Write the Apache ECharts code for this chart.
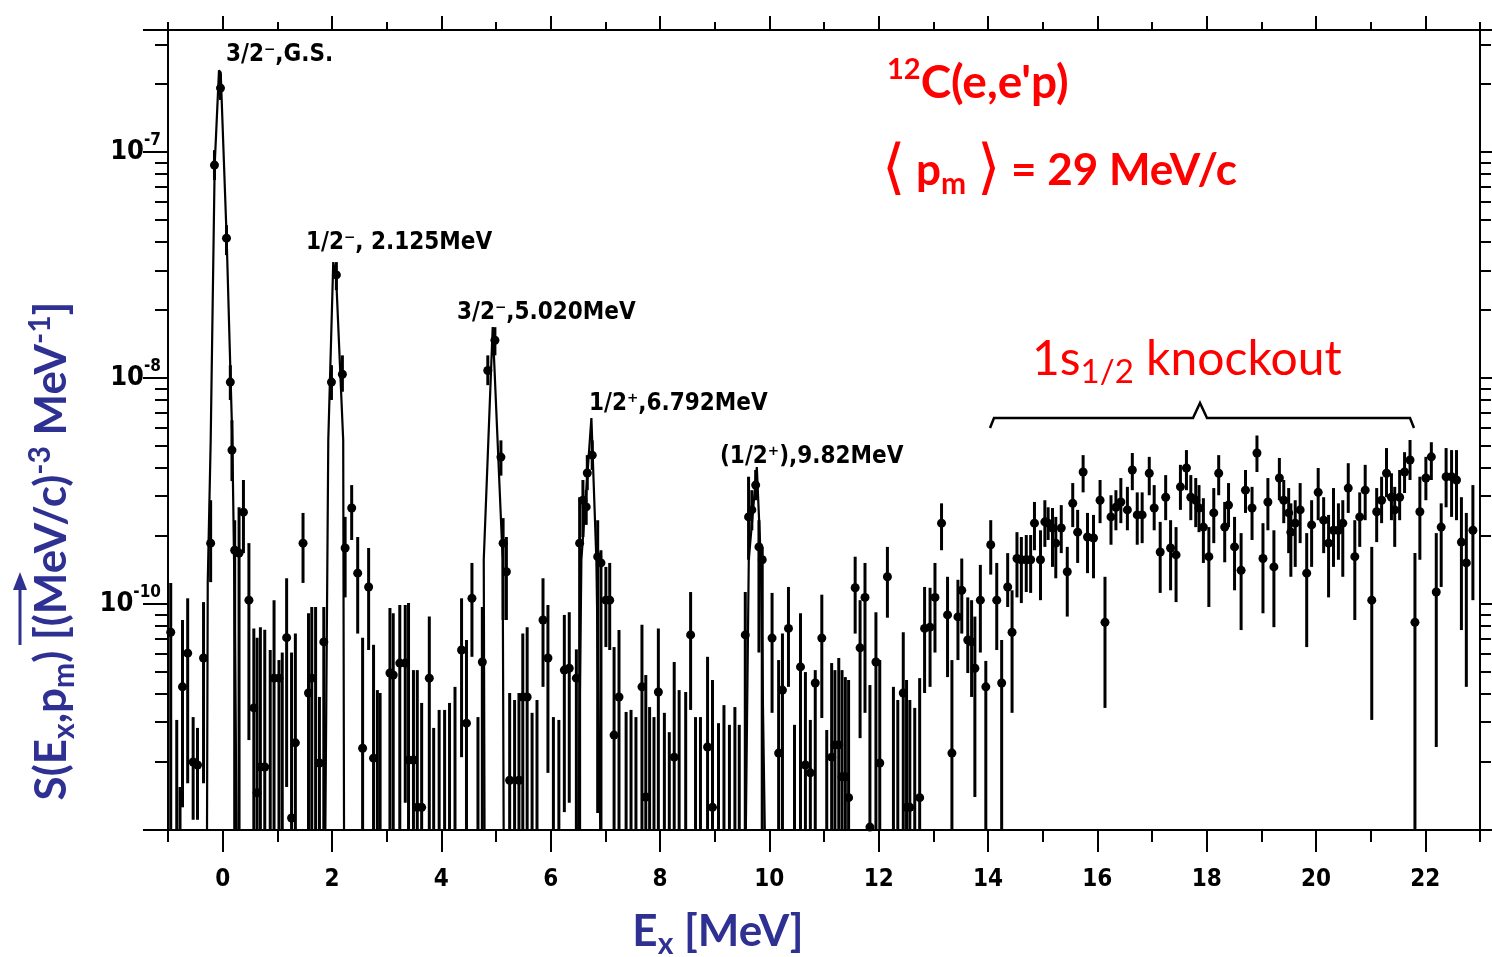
<!DOCTYPE html>
<html><head><meta charset="utf-8">
<script src="https://cdn.jsdelivr.net/npm/echarts@6/dist/echarts.min.js"></script>
<style>html,body{margin:0;padding:0;background:#fff}#c{width:1492px;height:957px}</style>
</head><body><div id="c"></div>
<script>
// ---- data (strength values in units of 1e-10 (MeV/c)^-3 MeV^-1) ----
const UNIT = 1e-10;
const energy = [-0.95,-0.84,-0.78,-0.735,-0.64,-0.54,-0.46,-0.35,-0.22,-0.15,-0.04,0.07,0.14,0.17,0.22,0.30,0.38,0.48,0.57,0.63,0.69,0.77,0.87,0.94,1.03,1.09,1.17,1.26,1.33,1.47,1.57,1.63,1.70,1.77,1.85,1.99,2.08,2.19,2.24,2.36,2.47,2.56,2.67,2.76,2.83,2.88,3.06,3.12,3.24,3.34,3.40,3.49,3.56,3.64,3.78,3.86,3.96,4.06,4.15,4.25,4.37,4.46,4.56,4.67,4.75,4.85,4.98,5.09,5.13,5.19,5.25,5.34,5.42,5.49,5.57,5.66,5.75,5.86,5.95,6.05,6.15,6.25,6.34,6.47,6.53,6.59,6.65,6.67,6.76,6.86,6.92,7.01,7.08,7.16,7.25,7.38,7.47,7.56,7.67,7.74,7.81,7.89,7.97,8.08,8.17,8.26,8.35,8.47,8.56,8.65,8.74,8.87,8.96,9.07,9.17,9.27,9.37,9.45,9.56,9.62,9.68,9.75,9.81,9.87,10.05,10.17,10.24,10.35,10.46,10.57,10.66,10.75,10.84,10.96,11.05,11.14,11.20,11.27,11.33,11.39,11.45,11.57,11.66,11.75,11.84,11.95,12.02,12.16,12.27,12.35,12.45,12.51,12.57,12.66,12.75,12.84,12.94,13.03,13.15,13.26,13.34,13.45,13.52,13.63,13.70,13.76,13.86,13.96,14.05,14.16,14.25,14.36,14.44,14.53,14.61,14.70,14.78,14.85,14.96,15.04,15.10,15.18,15.24,15.34,15.45,15.55,15.64,15.74,15.82,15.93,16.05,16.14,16.25,16.34,16.43,16.55,16.64,16.73,16.82,16.95,17.04,17.15,17.25,17.34,17.44,17.52,17.63,17.71,17.80,17.86,17.94,18.04,18.13,18.22,18.33,18.40,18.51,18.63,18.71,18.83,18.92,19.03,19.12,19.23,19.33,19.41,19.50,19.54,19.62,19.71,19.83,19.92,20.04,20.14,20.23,20.32,20.41,20.49,20.59,20.71,20.80,20.90,21.02,21.11,21.20,21.29,21.38,21.44,21.53,21.62,21.72,21.81,21.90,22.01,22.11,22.20,22.29,22.38,22.48,22.57,22.66,22.75,22.87];
const strength = [7.5,0.5,0.5,4.3,6.06,2.0,1.94,5.77,18.6,876,1920,416,96,48,17.3,16.8,25.5,10.4,3.47,1.46,1.9,1.9,0.5,4.7,4.7,0.5,7.1,1.13,2.43,18.6,4.04,4.7,0.5,1.98,6.8,96,286,104,17.7,26.6,13.7,2.3,11.9,2.08,0.5,0.5,4.95,4.85,5.48,5.48,2.04,2.04,1.26,1.26,4.7,0.5,0.5,0.5,0.5,0.5,6.26,2.97,10.6,0.5,5.54,108,147,44.7,18.6,13.9,1.66,0.5,1.66,3.88,3.88,0.5,0.5,8.5,5.77,0.5,0.5,5.1,5.2,4.7,18.6,28.8,26.9,38,45.6,16.2,15.2,10.4,10.4,2.63,3.88,0.5,0.5,0.5,4.3,1.4,0.5,0.5,4.08,0.5,0.5,2.1,0.5,0.5,7.3,0.5,0.5,2.33,1.26,0.5,0.5,0.5,0.5,0.5,7.3,24.3,26.1,33.6,17.9,15.7,7.07,2.19,4.16,7.8,0.5,5.27,1.94,1.79,4.47,7.07,0.5,2.1,2.38,2.38,1.72,1.72,1.39,11.8,6.4,10.7,1.03,5.54,1.98,13.2,0.98,0.5,4.04,1.26,1.26,0.5,1.39,7.8,7.9,10.7,22.8,8.95,2.19,8.77,11.5,6.93,6.8,5.2,10.4,4.3,18.3,10.4,4.47,11.9,7.5,15.9,15.7,15.7,15.7,22.8,15.7,23.1,22.8,21.7,18.6,21.7,13.9,27.9,20.8,38.4,19.8,19.6,28.8,8.3,24.3,26.8,28.3,26.1,39.2,24.8,24.8,37.9,26.6,17.0,29.7,17.7,16.5,33.0,40.0,29.7,28.8,26.6,21.9,16.2,25.3,37.9,21.9,27.4,17.9,14.1,31.9,26.6,46.6,15.9,28.3,14.6,36.1,28.8,25.3,20.8,22.8,26.1,13.7,22.4,31.2,23.5,18.6,21.2,21.2,22.8,32.6,16.2,24.3,31.9,10.4,25.6,28.8,37.9,29.7,26.1,29.7,38.4,43.4,8.3,25.6,36.1,44.8,11.3,21.9,36.6,36.6,35.4,18.8,15.2,21.2];
const upper = [12.4,3.07,1.55,8.5,10.6,3.16,2.83,10.2,28.8,1020,2220,475,114,65,23.5,26.8,35.4,18.6,7.8,7.1,7.9,7.7,6.26,10.4,5.65,6.1,13.0,6.1,7.4,25.3,9.1,9.7,9.7,3.88,9.7,114,326,126,24.3,33.6,19.8,7.1,17.7,6.6,4.16,4.04,9.6,9.1,9.9,9.9,10.1,5.1,5.1,3.65,8.8,2.83,3.4,3.4,3.65,4.3,10.6,6.93,15.2,3.16,9.7,126,168,53,24,19.8,4.04,3.76,4.04,7.4,7.9,3.3,3.76,13.0,9.9,3.16,3.07,8.95,9.2,6.3,29.7,35.4,31.9,45.6,53,23.5,17.3,14.6,15.2,6.45,7.67,3.33,3.4,3.16,8.1,4.85,3.5,3.16,7.8,3.3,2.71,5.54,4.16,4.08,11.3,3.16,3.16,5.84,4.61,2.97,3.57,2.92,3.5,2.92,11.3,36.6,31.9,39.2,23.5,17.9,11.2,5.65,7.4,11.9,2.92,9.1,5.0,3.07,5.1,11.0,2.77,5.48,5.1,5.77,5.1,4.75,4.61,16.2,10.4,15.2,4.38,9.2,5.65,17.9,4.3,3.76,7.5,4.61,3.76,3.47,4.7,11.9,11.8,15.2,27.9,13.2,5.65,12.8,15.9,10.7,10.4,8.8,14.9,5.6,23.5,15.2,6.93,16.8,11.5,20.8,19.8,20.2,20.2,28.3,21.2,28.8,26.8,26.6,24.3,27.4,17.9,34.3,26.1,45.6,25.3,24.8,35.4,13.2,30.3,31.9,36.1,33.0,46.6,31.2,31.2,44.8,33.6,23.1,37.2,23.5,21.9,41.3,48.0,37.2,36.1,33.6,29.4,21.9,32.6,45.6,28.3,34.3,24.3,20.6,39.2,33.0,55.7,22.8,36.1,21.2,44.3,35.4,32.6,27.9,28.8,34.3,20.6,28.8,40.0,29.7,24.8,32.6,27.9,28.8,42.0,23.5,31.2,41.3,17.9,32.6,36.6,49.0,37.9,33.0,39.2,47.0,53.2,16.8,36.6,44.8,52.0,20.6,27.9,49.0,48.0,48.0,29.7,25.3,33.6];
const lower = [0.5,0.5,0.5,1.26,1.61,1.11,1.11,1.61,12.5,752,1700,350,80,35,0.5,0.5,16.8,2.5,0.5,0.5,0.5,0.5,0.5,0.5,0.5,0.5,1.55,0.5,0.5,12.4,0.5,0.5,0.5,0.5,0.5,80,245,87,10.7,19.2,7.4,0.5,6.26,0.5,0.5,0.5,0.5,0.5,0.5,1.32,0.5,0.5,0.5,0.5,0.5,0.5,0.5,0.5,0.5,0.5,2.1,0.5,5.84,0.5,0.5,93,126,37,8.5,8.5,0.5,0.5,0.5,0.5,0.5,0.5,0.5,4.3,1.79,0.5,0.5,1.2,1.32,0.5,0.5,19.8,22.4,31.9,39.2,1.19,0.5,6.45,6.26,0.5,0.5,0.5,0.5,0.5,0.5,0.5,0.5,0.5,0.5,0.5,0.5,0.5,0.5,0.5,3.4,0.5,0.5,0.5,0.5,0.5,0.5,0.5,0.5,0.5,0.5,15.7,21.2,28.8,6.1,0.5,3.3,0.5,0.5,4.3,0.5,0.5,0.5,0.5,0.5,3.13,0.5,0.5,0.5,0.5,0.5,0.5,0.5,7.4,2.55,3.3,0.5,0.5,0.5,8.7,0.5,0.5,0.5,0.5,0.5,0.5,0.5,4.04,4.3,6.1,17.3,4.75,0.5,5.65,7.4,4.95,3.88,1.4,6.1,0.5,13.5,6.26,0.5,9.7,3.3,10.7,10.1,11.3,11.2,17.3,10.4,17.9,19.2,14.6,13.0,16.8,8.8,21.9,15.2,31.2,13.7,13.0,22.8,3.47,18.3,21.2,22.8,21.2,31.9,18.3,18.6,30.3,21.2,11.2,23.5,11.5,10.2,26.1,31.9,23.5,21.9,20.8,15.2,9.7,18.6,30.3,15.3,21.9,11.5,7.67,25.3,19.2,38.4,9.1,21.2,7.9,28.8,22.8,16.8,13.2,14.6,18.6,6.45,14.6,23.5,16.8,10.7,14.6,15.7,13.2,25.3,8.5,17.9,23.5,3.07,18.8,22.8,29.7,23.5,17.9,23.5,31.0,35.4,0.5,15.7,28.8,35.4,2.33,11.9,26.8,24.3,23.5,7.67,4.3,10.4];

// fitted line shapes of the discrete states: [E (MeV), S (1e-10 units)]
const fitGS   = [[-0.29,0.5],[-0.273,12.5],[-0.219,53],[-0.146,876],[-0.067,2300],[-0.036,2250],[0.073,416],[0.177,53],[0.219,10.4],[0.255,1.0],[0.27,0.5]];
const fit2125 = [[1.87,0.5],[1.878,1.0],[1.932,53],[2.023,326],[2.078,272],[2.205,53],[2.22,1.0],[2.23,0.5]];
const fit5020 = [[4.78,0.5],[4.79,1.0],[4.776,15.7],[4.94,168],[5.122,15.7],[5.14,1.0],[5.15,0.5]];
const fit6792 = [[6.50,0.5],[6.507,1.0],[6.562,15.7],[6.745,66.5],[6.836,15.7],[6.908,1.0],[6.92,0.5]];
const fit962  = [[9.56,0.5],[9.57,1.0],[9.624,15.7],[9.771,40.4],[9.844,15.7],[9.917,1.0],[9.93,0.5]];

// axes
const X_MIN = -1, X_MAX = 23;
const xMajorTicks = [0,2,4,6,8,10,12,14,16,18,20,22];
const xMinorTicks = [-1,1,3,5,7,9,11,13,15,17,19,21,23];
const Y_MIN = 1e-10, Y_MAX = 3.47e-7;
const yDecades = [1e-10,1e-9,1e-8,1e-7];
const yDecadeExp = ['', '-10', '-8', '-7'];   // exponents as printed on the reference
const yMinorMult = [2,3,4,5,6,7,8,9];

const yMajorTicks = yDecades.concat([Y_MAX]);
const yMinorTicks = [];
yDecades.forEach(d => yMinorMult.forEach(m => { if (m*d < Y_MAX) yMinorTicks.push(m*d); }));

const TICKFONT = "'DejaVu Sans Condensed','Liberation Sans Narrow','DejaVu Sans',sans-serif";
const TITLEFONT = "Lato,'Open Sans',sans-serif";
const BLUE = '#2e3192';
const RED = '#ff0000';

const chart = echarts.init(document.getElementById('c'), null, {renderer:'canvas'});

const baseX = {type:'value', min:X_MIN, max:X_MAX, gridIndex:0, splitLine:{show:false}, axisLine:{onZero:false, show:false}, axisLabel:{show:false}, axisTick:{show:false}};
const baseY = {type:'log', logBase:10, min:Y_MIN, max:Y_MAX, gridIndex:0, splitLine:{show:false}, axisLine:{onZero:false, show:false}, axisLabel:{show:false}, axisTick:{show:false}};
const lineSt = {color:'#000', width:2};

const xAxes = [
  Object.assign({}, baseX, {position:'bottom',
    axisLine:{show:true, onZero:false, lineStyle:lineSt},
    axisTick:{show:true, inside:false, length:22, customValues:xMajorTicks, lineStyle:lineSt},
    axisLabel:{show:true, customValues:xMajorTicks, margin:38, fontSize:24, fontWeight:'bold', fontFamily:TICKFONT, color:'#000'}}),
  Object.assign({}, baseX, {position:'bottom',
    axisTick:{show:true, inside:false, length:12, customValues:xMinorTicks, lineStyle:lineSt}}),
  Object.assign({}, baseX, {position:'top',
    axisLine:{show:true, onZero:false, lineStyle:lineSt},
    axisTick:{show:true, inside:false, length:14, customValues:xMajorTicks, lineStyle:lineSt}}),
  Object.assign({}, baseX, {position:'top',
    axisTick:{show:true, inside:false, length:8, customValues:xMinorTicks, lineStyle:lineSt}})
];

const yAxes = [
  Object.assign({}, baseY, {position:'left',
    axisLine:{show:true, onZero:false, lineStyle:lineSt},
    axisTick:{show:true, inside:false, length:25, customValues:yMajorTicks, lineStyle:lineSt},
    axisLabel:{show:true, customValues:yDecades.slice(1), margin:7,
      formatter: function(v){ const k = Math.round(Math.log10(v)); const i = yDecades.findIndex(d => Math.round(Math.log10(d)) === k); return '{b|10}{s|' + yDecadeExp[i] + '}'; },
      rich:{ b:{fontSize:27, fontWeight:'bold', fontFamily:TICKFONT, color:'#000', lineHeight:40},
             s:{fontSize:17, fontWeight:'bold', fontFamily:TICKFONT, color:'#000', lineHeight:17, verticalAlign:'top'} }}}),
  Object.assign({}, baseY, {position:'left',
    axisTick:{show:true, inside:false, length:13, customValues:yMinorTicks, lineStyle:lineSt}}),
  Object.assign({}, baseY, {position:'right',
    axisLine:{show:true, onZero:false, lineStyle:lineSt},
    axisTick:{show:true, inside:false, length:18, customValues:yMajorTicks, lineStyle:lineSt}}),
  Object.assign({}, baseY, {position:'right',
    axisTick:{show:true, inside:false, length:11, customValues:yMinorTicks, lineStyle:lineSt}})
];

const toSeries = arr => arr.map(p => [p[0], p[1]*UNIT]);
const fitSeries = [fitGS, fit2125, fit5020, fit6792, fit962].map((f, i) => ({
  type:'line', name:'fit'+i, data:toSeries(f), showSymbol:false, symbol:'none', clip:true,
  lineStyle:{color:'#000', width:2.2, opacity:1}, z:3, silent:true, animation:false
}));

const errData = energy.map((e,i) => [e, lower[i]*UNIT, upper[i]*UNIT]);
const ptData = energy.map((e,i) => [e, strength[i]*UNIT]);

function txt(x, y, text, rich, opts) {
  return Object.assign({type:'text', x:x, y:y, z:100, silent:true,
    style:{text:text, rich:rich, align:'left', verticalAlign:'middle', textAlign:'left', textVerticalAlign:'middle'}}, opts || {});
}
const lblRich = {t:{fontSize:24, fontWeight:'bold', fontFamily:TICKFONT, fill:'#000'}};
const peakLabels = [
  ['3/2⁻,G.S.', 226, 55],
  ['1/2⁻, 2.125MeV', 306, 243],
  ['3/2⁻,5.020MeV', 457, 313],
  ['1/2⁺,6.792MeV', 589, 404],
  ['(1/2⁺),9.82MeV', 720, 457]
];

const redBig = {fontSize:46, fontWeight:'bold', fontFamily:TITLEFONT, fill:RED, lineHeight:56};
const graphics = [];
peakLabels.forEach(p => graphics.push(txt(p[1], p[2], '{t|' + p[0] + '}', lblRich)));
graphics.push(txt(887, 83, '{s|12}{m|C(e,e\'p)}', {
  m:redBig, s:{fontSize:29, fontWeight:'bold', fontFamily:TITLEFONT, fill:RED, lineHeight:29, verticalAlign:'top'}}));
graphics.push(txt(882, 171, '{a|⟨}{m| p}{u|m}{m| }{a|⟩}{m| = 29 MeV/c}', {
  m:{fontSize:44, fontWeight:'bold', fontFamily:TITLEFONT, fill:RED, lineHeight:60},
  a:{fontSize:60, fontFamily:"'DejaVu Sans',sans-serif", fill:RED, lineHeight:60},
  u:{fontSize:30, fontWeight:'bold', fontFamily:TITLEFONT, fill:RED, lineHeight:30, verticalAlign:'bottom', padding:[0,0,2,0]}}));
graphics.push(txt(1032, 360, '{m|1s}{u|1/2}{m| knockout}', {
  m:{fontSize:48, fontFamily:TITLEFONT, fill:RED, lineHeight:58},
  u:{fontSize:33, fontFamily:TITLEFONT, fill:RED, lineHeight:33, verticalAlign:'bottom'}}));
// brace over the 1s1/2 region
graphics.push({type:'polyline', z:100, silent:true, shape:{points:[[990,428],[994,418],[1193,418],[1200,403],[1207,418],[1410,418],[1414,428]]},
  style:{stroke:'#000', lineWidth:2.5, fill:null}});
// axis titles
const tRich = {
  m:{fontSize:44, fontWeight:'bold', fontFamily:TITLEFONT, fill:BLUE, lineHeight:54},
  u:{fontSize:30, fontWeight:'bold', fontFamily:TITLEFONT, fill:BLUE, lineHeight:30, verticalAlign:'bottom'},
  s:{fontSize:30, fontWeight:'bold', fontFamily:TITLEFONT, fill:BLUE, lineHeight:30, verticalAlign:'top'}
};
const xTitle = txt(718, 932, '{m|E}{u|x}{m| [MeV]}', tRich);
xTitle.style.align = 'center'; xTitle.style.textAlign = 'center';
graphics.push(xTitle);
const yTitle = txt(52, 551, '{m|S(E}{u|x}{m|,p}{u|m}{m|) [(MeV/c)}{s|-3}{m| MeV}{s|-1}{m|]}', tRich, {rotation:Math.PI/2});
yTitle.style.align = 'center'; yTitle.style.textAlign = 'center';
graphics.push(yTitle);
// vector arrow of the y title
graphics.push({type:'line', z:100, silent:true, shape:{x1:20, y1:645, x2:20, y2:588}, style:{stroke:BLUE, lineWidth:3}});
graphics.push({type:'polygon', z:100, silent:true, shape:{points:[[20,572],[13,590],[27,590]]}, style:{fill:BLUE}});

chart.setOption({
  animation:false,
  backgroundColor:'#fff',
  grid:{left:168, right:12, top:30, bottom:127},
  xAxis:xAxes,
  yAxis:yAxes,
  series:[
    {type:'custom', name:'errors', xAxisIndex:0, yAxisIndex:0, clip:true, z:4, silent:true,
      data:errData, encode:{x:0, y:[1,2]},
      renderItem:function(params, api){
        const x = api.value(0);
        const a = api.coord([x, api.value(2)]);
        const b = api.coord([x, api.value(1)]);
        return {type:'line', shape:{x1:a[0], y1:a[1], x2:b[0], y2:b[1]}, style:{stroke:'#000', lineWidth:3}};
      }},
    {type:'scatter', name:'data', xAxisIndex:0, yAxisIndex:0, data:ptData, symbol:'circle', symbolSize:9, clip:true, z:5, silent:true,
      itemStyle:{color:'#000', opacity:1}}
  ].concat(fitSeries),
  graphic:{elements:graphics}
});
</script>
</body></html>
